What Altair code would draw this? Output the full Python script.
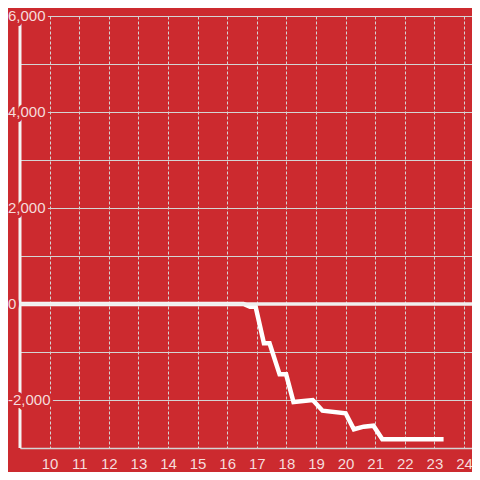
import altair as alt
import pandas as pd

# Data
hours = [9.0, 16.55, 16.77, 16.96, 17.24, 17.43, 17.77, 17.99, 18.24, 18.89,
         19.22, 20.0, 20.28, 20.61, 20.94, 21.24, 23.31]
values = [0, 0, -56, -56, -819, -819, -1465, -1465, -2042, -2000,
          -2223, -2277, -2610, -2556, -2535, -2819, -2819]

x_ticks = list(range(10, 25))
y_grid = [-3000, -2000, -1000, 0, 1000, 2000, 3000, 4000, 5000, 6000]
y_label_values = [-2000, 0, 2000, 4000, 6000]
y_label_text = ["-2,000", "0", "2,000", "4,000", "6,000"]

BG = "#CC2A2F"
GRID = "#d4d4d4"
LABEL = "#f5dcdc"
FONT = "Liberation Sans"

line_df = pd.DataFrame({"hour": hours, "value": values})
lab_df = pd.DataFrame({"v": y_label_values, "t": y_label_text})
one = pd.DataFrame({"a": [0]})

xscale = alt.Scale(domain=[9, 24.27], nice=False, zero=False)
yscale = alt.Scale(domain=[-3000, 6000], nice=False)

xaxis = alt.Axis(values=x_ticks, grid=True, gridDash=[3, 2], gridColor=GRID,
                 gridWidth=1, domain=True, domainColor=GRID, domainWidth=1.5,
                 ticks=False, labelColor=LABEL, labelFontSize=15, labelFont=FONT,
                 labelPadding=8, title=None, format="d", labelFlush=False,
                 labelOverlap=False)
yaxis = alt.Axis(values=y_grid, grid=True, gridColor=GRID, gridWidth=1,
                 domain=False, ticks=False, labels=False, title=None)

base_line = alt.Chart(line_df).mark_line(
    color="white", strokeWidth=4.5, strokeJoin="miter"
).encode(
    x=alt.X("hour:Q", scale=xscale, axis=xaxis),
    y=alt.Y("value:Q", scale=yscale, axis=yaxis),
)

axis_line = alt.Chart(one).mark_rule(color="#f4f4f4", strokeWidth=3).encode(
    x=alt.X(datum=9, scale=xscale, axis=xaxis),
    y=alt.Y(datum=-3000, scale=yscale, axis=yaxis),
    y2=alt.Y2(datum=6000),
)

zero_line = alt.Chart(one).mark_rule(color="#f0f0f0", strokeWidth=3.5).encode(
    y=alt.Y(datum=0, scale=yscale, axis=yaxis),
)

halo = alt.Chart(lab_df).mark_text(
    align="left", baseline="middle", fontSize=15, font=FONT,
    fill=BG, stroke=BG, strokeWidth=6, strokeJoin="round",
).encode(
    x=alt.value(-12),
    y=alt.Y("v:Q", scale=yscale, axis=yaxis),
    text="t:N",
)

labels = alt.Chart(lab_df).mark_text(
    align="left", baseline="middle", fontSize=15, font=FONT, color=LABEL,
).encode(
    x=alt.value(-12),
    y=alt.Y("v:Q", scale=yscale, axis=yaxis),
    text="t:N",
)

chart = alt.layer(base_line, axis_line, zero_line, halo, labels).properties(
    width=452,
    height=432,
    background=BG,
    padding={"left": 12, "top": 8, "right": 0, "bottom": 24},
    autosize=alt.AutoSizeParams(type="none"),
).configure_view(stroke=None)

chart.save("out.html", embed_options={"renderer": "svg", "actions": False})
